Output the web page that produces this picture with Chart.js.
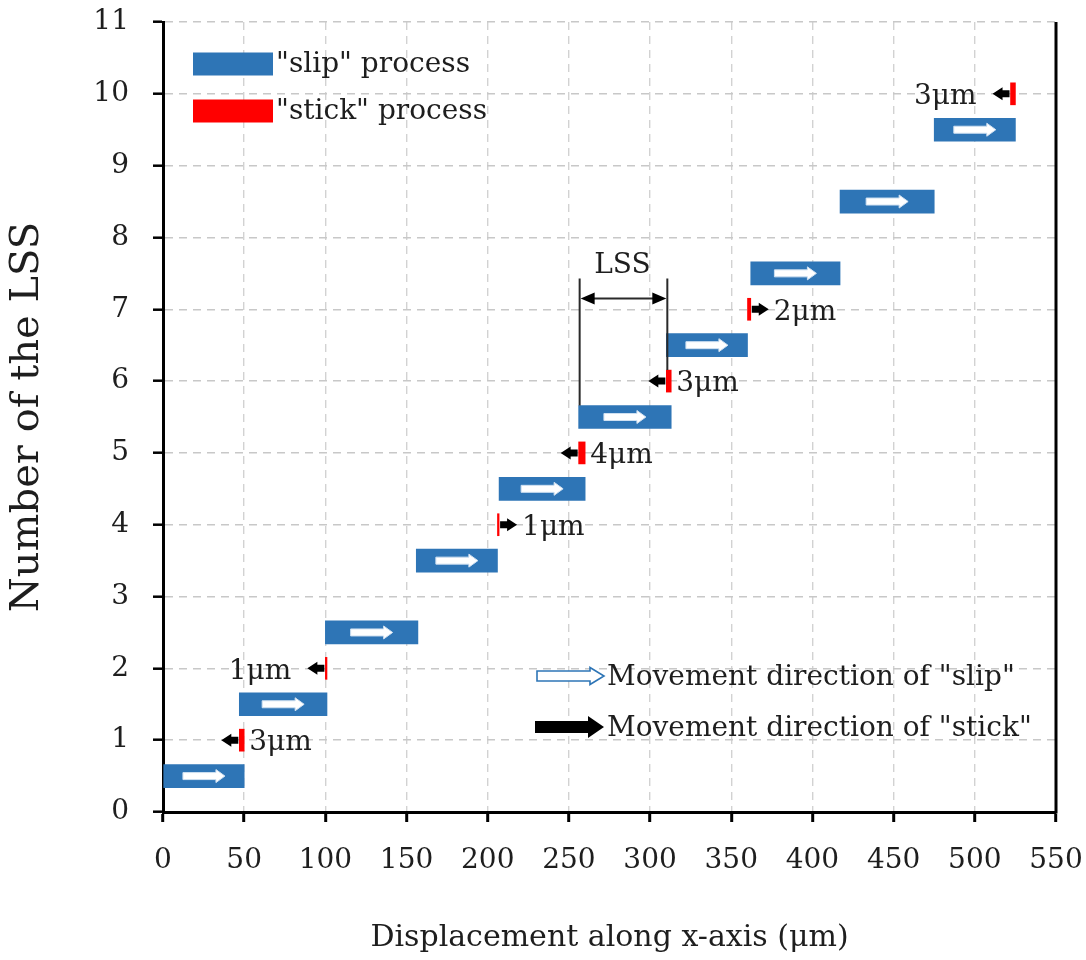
<!DOCTYPE html>
<html>
<head>
<meta charset="utf-8">
<script src="https://cdn.jsdelivr.net/npm/chart.js@4/dist/chart.umd.min.js"></script>
<style>
  html, body { margin: 0; padding: 0; background: #ffffff; }
  #wrap { width: 1086px; height: 960px; }
</style>
</head>
<body>
<div id="wrap"><canvas id="chart" width="1086" height="960"></canvas></div>
<script>
// Axis ticks
const xTicks = [0, 50, 100, 150, 200, 250, 300, 350, 400, 450, 500, 550];
const yTicks = [0, 1, 2, 3, 4, 5, 6, 7, 8, 9, 10, 11];

// "slip" segments: level on the LSS axis, start and end displacement (µm)
const slipLevel = [0.5, 1.5, 2.5, 3.5, 4.5, 5.5, 6.5, 7.5, 8.5, 9.5];
const slipStart = [0, 47, 100, 156, 207, 256, 310, 362, 417, 475];
const slipEnd   = [50, 101, 157, 206, 260, 313, 360, 417, 475, 525];

// "stick" segments: level, position where the stick starts, signed shift (µm)
const stickLevel = [1, 2, 4, 5, 6, 7, 10];
const stickFrom  = [50, 101, 206, 260, 313, 360, 525];
const stickShift = [-3, -1, 1, -4, -3, 2, -3];

// Which side of each stick mark carries its "nµm" label
const stickLabelSide = ['right', 'left', 'right', 'right', 'right', 'right', 'left'];

const FONT = '"DejaVu Serif", "Liberation Serif", serif';
const TEXT = '#1e1e1e';
const BLUE = '#2E75B6';
const RED = '#FF0000';
const FS = 28;

function blockArrow(ctx, xTail, xTip, yc, shaftH, headH, headL) {
  const d = Math.sign(xTip - xTail) || 1;
  const xNeck = xTip - d * headL;
  ctx.beginPath();
  ctx.moveTo(xTail, yc - shaftH / 2);
  ctx.lineTo(xNeck, yc - shaftH / 2);
  ctx.lineTo(xNeck, yc - headH / 2);
  ctx.lineTo(xTip, yc);
  ctx.lineTo(xNeck, yc + headH / 2);
  ctx.lineTo(xNeck, yc + shaftH / 2);
  ctx.lineTo(xTail, yc + shaftH / 2);
  ctx.closePath();
}

function barBox(el) {
  const left = Math.min(el.x, el.base);
  const right = Math.max(el.x, el.base);
  return { left, right, top: el.y - el.height / 2, bottom: el.y + el.height / 2, cy: el.y };
}

const markings = {
  id: 'markings',
  afterDatasetsDraw(chart) {
    const { ctx, chartArea: a, scales: { y } } = chart;
    const slipBars = chart.getDatasetMeta(0).data;
    const stickBars = chart.getDatasetMeta(1).data;
    ctx.save();

    // white direction arrows inside each slip bar
    slipBars.forEach(el => {
      const b = barBox(el);
      const cx = (b.left + b.right) / 2;
      blockArrow(ctx, cx - 21, cx + 21, b.cy, 7, 13, 9);
      ctx.fillStyle = '#ffffff';
      ctx.fill();
      ctx.lineWidth = 1;
      ctx.strokeStyle = '#cfe0f1';
      ctx.stroke();
    });

    // black arrows and value labels next to the stick marks
    ctx.font = FS + 'px ' + FONT;
    ctx.textBaseline = 'middle';
    stickBars.forEach((el, i) => {
      const b = barBox(el);
      const shift = stickShift[i];
      let arrowL, arrowR;
      if (shift < 0) {
        arrowR = b.left - 1; arrowL = arrowR - 17;
        blockArrow(ctx, arrowR, arrowL, b.cy, 7, 13, 10);
      } else {
        arrowL = b.right + 1; arrowR = arrowL + 17;
        blockArrow(ctx, arrowL, arrowR, b.cy, 7, 13, 10);
      }
      ctx.fillStyle = '#000000';
      ctx.fill();
      const label = Math.abs(shift) + 'μm';
      ctx.fillStyle = TEXT;
      if (stickLabelSide[i] === 'right') {
        ctx.textAlign = 'left';
        ctx.fillText(label, Math.max(b.right, arrowR) + 5, b.cy + 3);
      } else {
        ctx.textAlign = 'right';
        ctx.fillText(label, Math.min(b.left, arrowL) - 16, b.cy + 3);
      }
    });

    // LSS dimension between two successive slip starts
    const first = barBox(slipBars[5]);
    const second = barBox(slipBars[6]);
    const stickBelow = barBox(stickBars[4]);
    const topY = y.getPixelForValue(7.43);
    const dimY = y.getPixelForValue(7.15);
    ctx.strokeStyle = '#2a2a2a';
    ctx.lineWidth = 2;
    ctx.beginPath();
    ctx.moveTo(first.left + 1, first.top);
    ctx.lineTo(first.left + 1, topY);
    ctx.moveTo(second.left + 1, stickBelow.top);
    ctx.lineTo(second.left + 1, topY);
    ctx.moveTo(first.left + 12, dimY);
    ctx.lineTo(second.left - 10, dimY);
    ctx.stroke();
    ctx.fillStyle = '#000000';
    ctx.beginPath();
    ctx.moveTo(first.left + 2, dimY);
    ctx.lineTo(first.left + 16, dimY - 6);
    ctx.lineTo(first.left + 16, dimY + 6);
    ctx.closePath();
    ctx.moveTo(second.left, dimY);
    ctx.lineTo(second.left - 14, dimY - 6);
    ctx.lineTo(second.left - 14, dimY + 6);
    ctx.closePath();
    ctx.fill();
    ctx.fillStyle = TEXT;
    ctx.textAlign = 'center';
    ctx.fillText('LSS', (first.left + second.left) / 2, y.getPixelForValue(7.6));

    // legend for the two processes (top left)
    chart.data.datasets.forEach((ds, i) => {
      const cy = a.top + 42 + i * 47;
      ctx.fillStyle = ds.backgroundColor;
      ctx.fillRect(a.left + 30, cy - 11.5, 80, 23);
      ctx.fillStyle = TEXT;
      ctx.textAlign = 'left';
      ctx.fillText(ds.label, a.left + 113, cy + 1);
    });

    // legend for the two movement arrows (bottom right)
    const lx0 = a.left + 374, lx1 = a.left + 441;
    const slipY = a.top + 654, stickY = a.top + 705;
    blockArrow(ctx, lx0, lx1, slipY, 10, 17, 14);
    ctx.fillStyle = '#ffffff';
    ctx.fill();
    ctx.strokeStyle = BLUE;
    ctx.lineWidth = 1.6;
    ctx.stroke();
    blockArrow(ctx, lx0 - 2, lx1, stickY, 12, 22, 16);
    ctx.fillStyle = '#000000';
    ctx.fill();
    ctx.fillStyle = TEXT;
    ctx.textAlign = 'left';
    ctx.fillText('Movement direction of "slip"', lx1 + 3, slipY + 2);
    ctx.fillText('Movement direction of "stick"', lx1 + 3, stickY + 2);

    ctx.restore();
  },
  afterDraw(chart) {
    const { ctx, chartArea: a } = chart;
    ctx.save();
    ctx.strokeStyle = '#000000';
    ctx.lineWidth = 3;
    ctx.beginPath();
    ctx.moveTo(a.right, a.top);
    ctx.lineTo(a.right, a.bottom + 1.5);
    ctx.stroke();
    ctx.restore();
  }
};

const slipData = slipLevel.map((lv, i) => ({ y: lv, x: [slipStart[i], slipEnd[i]] }));
const stickData = stickLevel.map((lv, i) => ({ y: lv, x: [stickFrom[i], stickFrom[i] + stickShift[i]] }));

const tickFont = { family: FONT, size: FS };

new Chart(document.getElementById('chart'), {
  type: 'bar',
  data: {
    datasets: [
      { label: '"slip" process', data: slipData, backgroundColor: BLUE, barThickness: 23, grouped: false },
      { label: '"stick" process', data: stickData, backgroundColor: RED, barThickness: 22, grouped: false }
    ]
  },
  options: {
    indexAxis: 'y',
    responsive: false,
    animation: false,
    devicePixelRatio: 1,
    layout: { padding: { top: 22, right: 30, left: 0, bottom: 0 } },
    plugins: { legend: { display: false }, tooltip: { enabled: false } },
    scales: {
      x: {
        type: 'linear', min: 0, max: 550, offset: false,
        afterBuildTicks: s => { s.ticks = xTicks.map(v => ({ value: v })); },
        afterFit: s => { s.height = 148; s.paddingLeft = 0; s.paddingRight = 0; },
        ticks: { font: tickFont, color: TEXT, padding: 22, maxRotation: 0, autoSkip: false },
        grid: { offset: false, color: '#d2d2d2', lineWidth: 1.4, tickColor: '#000000', tickWidth: 3, tickLength: 10 },
        border: { color: '#000000', width: 3, dash: [8, 6] },
        title: { display: true, text: 'Displacement along x-axis (μm)', font: { family: FONT, size: 30 }, color: TEXT, padding: { top: 0, bottom: 4 } }
      },
      y: {
        type: 'linear', min: 0, max: 11, offset: false,
        afterBuildTicks: s => { s.ticks = yTicks.map(v => ({ value: v })); },
        afterFit: s => { s.width = 163; s.paddingTop = 0; s.paddingBottom = 0; },
        ticks: { font: tickFont, color: TEXT, padding: 24, autoSkip: false },
        grid: { offset: false, color: '#c8c8c8', lineWidth: 1.4, tickColor: '#000000', tickWidth: 2.5, tickLength: 10 },
        border: { color: '#000000', width: 3, dash: [8, 6] },
        title: { display: true, text: 'Number of the LSS', font: { family: FONT, size: 40 }, color: TEXT, padding: { top: 4, bottom: 0 } }
      }
    }
  },
  plugins: [markings]
});
</script>
</body>
</html>
